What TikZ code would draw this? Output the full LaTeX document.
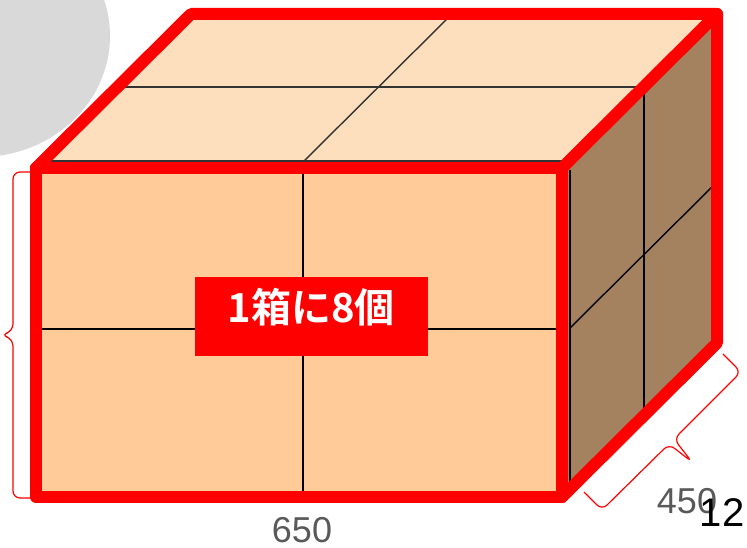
\documentclass[tikz,border=0pt]{standalone}
\usepackage{fontspec}
\setmainfont{Liberation Sans}
\newfontfamily\jp{Noto Sans CJK JP}[BoldFont={Noto Sans CJK JP Bold}]
\definecolor{topc}{RGB}{253,222,189}
\definecolor{frontc}{RGB}{255,204,153}
\definecolor{sidec}{RGB}{164,130,96}
\definecolor{blobc}{RGB}{217,217,217}
\definecolor{dimc}{RGB}{89,89,89}
\definecolor{gridc}{RGB}{51,51,51}
\begin{document}
\begin{tikzpicture}[x=1pt,y=-1pt,
  redline/.style={draw=red,line width=12pt,line join=round,line cap=round},
  gridline/.style={draw=black,line width=1.4pt},
  topgrid/.style={draw=gridc,line width=1.4pt},
  bracestyle/.style={draw=red,line width=1.2pt,rounded corners=7pt},
  dimtext/.style={text=dimc,inner sep=0pt,font=\fontsize{36}{36}\selectfont},
  lblbox/.style={fill=red,inner sep=0pt,minimum width=233pt,minimum height=79pt},
  lbltext/.style={text=white,inner sep=0pt,font=\jp\bfseries\fontsize{40}{40}\selectfont}
]
\useasboundingbox (0,0) rectangle (747,548);
% grey blob
\fill[blobc] (-20,36) ellipse [x radius=130pt, y radius=121pt];
% corners
\coordinate (F1) at (36,168);
\coordinate (F2) at (562,168);
\coordinate (F3) at (562,497);
\coordinate (F4) at (36,497);
\coordinate (B1) at (191,14);
\coordinate (B2) at (717,14);
\coordinate (B3) at (717,343);
% faces
\fill[topc] (F1) -- (B1) -- (B2) -- (F2) -- cycle;
\fill[frontc] (F1) rectangle (F3);
\fill[sidec] (F2) -- (B2) -- (B3) -- (F3) -- cycle;
% top grid
\draw[topgrid] (50,161) -- (563,161);
\draw[topgrid] (115,87) -- (645,87);
\draw[topgrid] (303,162) -- (452,14);
% front grid
\draw[gridline] (303,168) -- (303,497);
\draw[gridline] (36,329) -- (562,329);
% side grid
\draw[gridline] (570,170) -- (570,497);
\draw[gridline] (644,87) -- (644,416);
\draw[gridline] (570,328) -- (717,182);
% red outline
\draw[redline] (F1) rectangle (F3);
\draw[redline] (F1) -- (B1) -- (B2) -- (B3) -- (F3);
\draw[redline] (F2) -- (B2);
% label
\node[lblbox] (lbl) at (311.5,316.5) {};
\node[lbltext] (lbltxt) at (311,307) {1箱に8個};
% left brace
\coordinate (lbA) at (31,172);
\coordinate (lbB) at (13,172);
\coordinate (lbC) at (13,331);
\coordinate (lbT) at (1,335);
\coordinate (lbD) at (13,339);
\coordinate (lbE) at (13,498);
\coordinate (lbF) at (31,498);
\draw[bracestyle] (lbA) -- (lbB) -- (lbC) -- (lbT) -- (lbD) -- (lbE) -- (lbF);
% right brace
\coordinate (rbA) at (723,354);
\coordinate (rbB) at (741,372);
\coordinate (rbC) at (674,439);
\coordinate (rbT) at (692,462);
\coordinate (rbD) at (669,444);
\coordinate (rbE) at (602,510);
\coordinate (rbF) at (584,492);
\draw[bracestyle] (rbA) -- (rbB) -- (rbC) -- (rbT) -- (rbD) -- (rbE) -- (rbF);
% dimension texts
\node[dimtext] (w) at (302,530) {650};
\node[dimtext] (d) at (687,501) {450};
\node[inner sep=0pt,text=black,font=\fontsize{40}{40}\selectfont] (pg) at (722,513) {12};
\end{tikzpicture}
\end{document}
